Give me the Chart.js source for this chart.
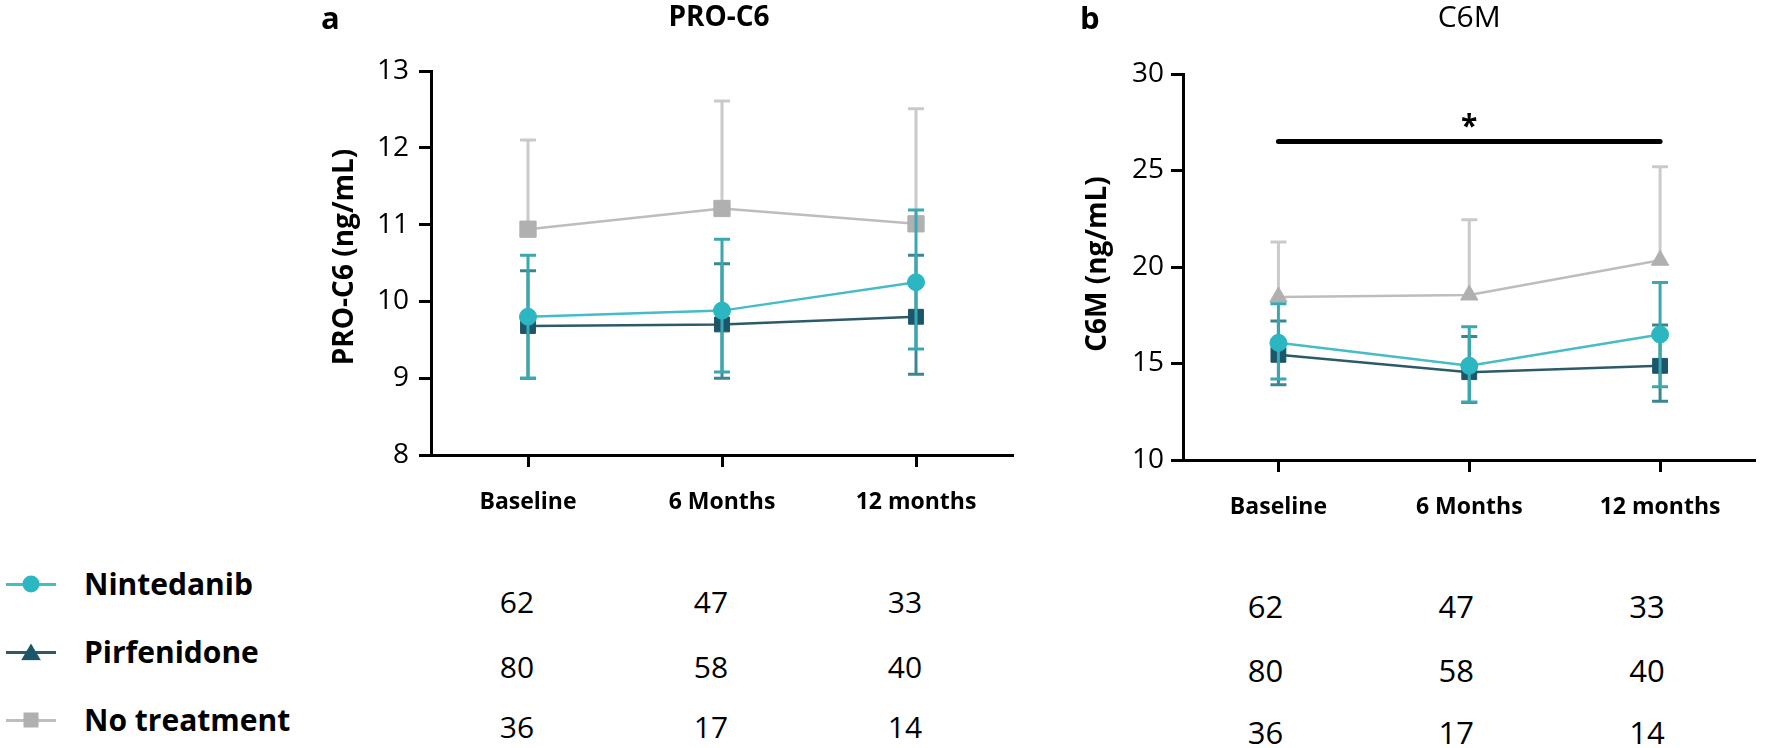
<!DOCTYPE html>
<html>
<head>
<meta charset="utf-8">
<script src="https://cdn.jsdelivr.net/npm/chart.js@4.4.0/dist/chart.umd.min.js"></script>
<style>
  html, body { margin: 0; padding: 0; background: #fff; }
  body { width: 1767px; height: 748px; position: relative; overflow: hidden; font-family: "Open Sans", sans-serif; color: #000; }
  canvas { position: absolute; top: 0; }
  .t { position: absolute; white-space: nowrap; line-height: 1; }
  .c { transform: translate(-50%, -50%); }
  .l { transform: translate(0, -50%); }
  .r { transform: translate(-50%, -50%) rotate(-90deg); }
  .leg-line { position: absolute; height: 3px; width: 50px; }
  .leg-mark { position: absolute; transform: translate(-50%, -50%); }
</style>
</head>
<body>
<canvas id="chartA" width="1060" height="560" style="left:0px"></canvas>
<canvas id="chartB" width="697" height="560" style="left:1070px"></canvas>
<script>
// time points
const timeLabels = ['Baseline', '6 Months', '12 months'];
const groupNames = ['Nintedanib', 'Pirfenidone', 'No treatment'];

// PRO-C6 (ng/mL), mean and error bar ends
const nintedanibA = [9.80, 9.88, 10.25];
const nintedanibAHigh = [10.60, 10.81, 11.19];
const nintedanibALow = [9.00, 9.08, 9.38];
const pirfenidoneA = [9.68, 9.70, 9.80];
const pirfenidoneAHigh = [10.40, 10.49, 10.60];
const pirfenidoneALow = [9.00, 9.00, 9.05];
const noTreatA = [10.94, 11.21, 11.01];
const noTreatAHigh = [12.10, 12.61, 12.51];

// C6M (ng/mL)
const nintedanibB = [16.07, 14.88, 16.50];
const nintedanibBHigh = [18.10, 16.90, 19.20];
const nintedanibBLow = [14.20, 13.00, 13.80];
const pirfenidoneB = [15.45, 14.55, 14.88];
const pirfenidoneBHigh = [17.20, 16.40, 17.00];
const pirfenidoneBLow = [13.90, 12.98, 13.05];
const noTreatB = [18.45, 18.55, 20.35];
const noTreatBHigh = [21.30, 22.45, 25.20];

// significance bar Baseline -> 12 months in C6M
const sigLevel = 26.5;

// patients per time point
const nintedanibN = [62, 47, 33];
const pirfenidoneN = [80, 58, 40];
const noTreatN = [36, 17, 14];

const colors = {
  nin: { line: '#45bcc6', point: '#2bb6c1', err: '#3aa7b1' },
  pir: { line: '#2d5a69', point: '#1c566b', err: '#3b8690' },
  none: { line: '#bdbdbd', point: '#b0b0b0', err: '#cacaca' }
};

const FONT = '"Open Sans", sans-serif';

// vertical error bars with caps; no treatment only has the upper half
const errorBars = {
  id: 'errorBars',
  beforeDatasetDraw(chart, args) {
    const ds = chart.data.datasets[args.index];
    const y = chart.scales.y;
    const ctx = chart.ctx;
    ctx.save();
    ctx.strokeStyle = ds.errColor;
    ctx.lineWidth = 3;
    args.meta.data.forEach((pt, i) => {
      const top = y.getPixelForValue(ds.errHigh[i]);
      const bot = ds.errLow ? y.getPixelForValue(ds.errLow[i]) : pt.y;
      ctx.beginPath();
      ctx.moveTo(pt.x, top); ctx.lineTo(pt.x, bot);
      ctx.moveTo(pt.x - 8, top); ctx.lineTo(pt.x + 8, top);
      if (ds.errLow) { ctx.moveTo(pt.x - 8, bot); ctx.lineTo(pt.x + 8, bot); }
      ctx.stroke();
    });
    ctx.restore();
  }
};

const sigBar = {
  id: 'sigBar',
  afterDraw(chart, args, opts) {
    if (!opts.show) return;
    const ctx = chart.ctx;
    const x0 = chart.scales.x.getPixelForValue(0);
    const x1 = chart.scales.x.getPixelForValue(2);
    const yy = chart.scales.y.getPixelForValue(opts.level);
    ctx.save();
    ctx.strokeStyle = '#000';
    ctx.lineWidth = 5;
    ctx.lineCap = 'round';
    ctx.beginPath();
    ctx.moveTo(x0, yy); ctx.lineTo(x1, yy);
    ctx.stroke();
    ctx.fillStyle = '#000';
    ctx.font = 'bold 30px ' + FONT;
    ctx.textAlign = 'center';
    ctx.textBaseline = 'middle';
    ctx.fillText('*', (x0 + x1) / 2, yy - 14);
    ctx.restore();
  }
};

function makeSet(label, data, hi, lo, c, style, radius) {
  return {
    label: label,
    data: data,
    errHigh: hi,
    errLow: lo,
    errColor: c.err,
    borderColor: c.line,
    borderWidth: 2.5,
    pointStyle: style,
    pointRadius: radius,
    pointBackgroundColor: c.point,
    pointBorderColor: c.point,
    pointBorderWidth: 1,
    tension: 0,
    fill: false
  };
}

function makePanel(id, sets, cfg) {
  return new Chart(document.getElementById(id), {
    type: 'line',
    data: { labels: timeLabels, datasets: sets },
    options: {
      responsive: false,
      animation: false,
      devicePixelRatio: 1,
      layout: { padding: cfg.padding },
      plugins: {
        legend: { display: false },
        tooltip: { enabled: false },
        sigBar: { show: cfg.sig, level: sigLevel }
      },
      scales: {
        x: {
          offset: true,
          grid: { offset: false, drawOnChartArea: false, tickLength: 12, tickWidth: 3, tickColor: '#000' },
          border: { color: '#000', width: 3 },
          ticks: { color: '#000', maxRotation: 0, padding: 22, font: { family: FONT, size: 23, weight: 'bold' } },
          afterFit: s => { s.height = cfg.xHeight; }
        },
        y: {
          min: cfg.min, max: cfg.max,
          grid: { drawOnChartArea: false, tickLength: 12, tickWidth: 3, tickColor: '#000' },
          border: { color: '#000', width: 3 },
          ticks: { stepSize: cfg.step, color: '#000', padding: cfg.tickPad, font: { family: FONT, size: 28 } },
          afterFit: s => { s.width = cfg.yWidth; }
        }
      }
    },
    plugins: [errorBars, sigBar]
  });
}

const chartA = makePanel('chartA', [
  makeSet(groupNames[0], nintedanibA, nintedanibAHigh, nintedanibALow, colors.nin, 'circle', 8.5),
  makeSet(groupNames[1], pirfenidoneA, pirfenidoneAHigh, pirfenidoneALow, colors.pir, 'rect', 10.5),
  makeSet(groupNames[2], noTreatA, noTreatAHigh, null, colors.none, 'rect', 11.5)
], { padding: { left: 321, top: 71, right: 47, bottom: 0 }, yWidth: 110, xHeight: 105, min: 8, max: 13, step: 1, tickPad: 10, sig: false });

const chartB = makePanel('chartB', [
  makeSet(groupNames[0], nintedanibB, nintedanibBHigh, nintedanibBLow, colors.nin, 'circle', 8.5),
  makeSet(groupNames[1], pirfenidoneB, pirfenidoneBHigh, pirfenidoneBLow, colors.pir, 'rect', 10.5),
  makeSet(groupNames[2], noTreatB, noTreatBHigh, null, colors.none, 'triangle', 10)
], { padding: { left: 13, top: 74, right: 4, bottom: 0 }, yWidth: 100, xHeight: 100, min: 10, max: 30, step: 5, tickPad: 7, sig: true });

// text placed on the page
function addText(txt, x, y, cls, css) {
  const d = document.createElement('div');
  d.className = 't ' + cls;
  d.textContent = txt;
  d.style.left = x + 'px';
  d.style.top = y + 'px';
  Object.assign(d.style, css || {});
  document.body.appendChild(d);
  return d;
}

addText('a', 321, 2, '', { fontWeight: 'bold', fontSize: '31px' });
addText('b', 1080, 2, '', { fontWeight: 'bold', fontSize: '31px' });
const areaA = chartA.chartArea, areaB = chartB.chartArea;
addText('PRO-C6', (areaA.left + areaA.right) / 2 - 3, 15, 'c', { fontWeight: 'bold', fontSize: '28px' });
addText('C6M', 1070 + (areaB.left + areaB.right) / 2, 16, 'c', { fontSize: '30px' });
addText('PRO-C6 (ng/mL)', 342, 257, 'r', { fontWeight: 'bold', fontSize: '28px' });
addText('C6M (ng/mL)', 1095, 264, 'r', { fontWeight: 'bold', fontSize: '28px' });

// legend
const legendRows = [584, 652, 720];
const legendColors = [colors.nin, colors.pir, colors.none];
groupNames.forEach((name, i) => {
  const y = legendRows[i];
  const line = document.createElement('div');
  line.className = 'leg-line';
  line.style.left = '6px';
  line.style.top = (y - 1.5) + 'px';
  line.style.background = legendColors[i].line;
  document.body.appendChild(line);
  const m = document.createElement('div');
  m.className = 'leg-mark';
  m.style.left = '31px';
  m.style.top = y + 'px';
  m.style.background = legendColors[i].point;
  if (i === 0) { m.style.width = '17px'; m.style.height = '17px'; m.style.borderRadius = '50%'; }
  if (i === 1) { m.style.width = '20px'; m.style.height = '17px'; m.style.clipPath = 'polygon(50% 0, 100% 100%, 0 100%)'; }
  if (i === 2) { m.style.width = '15px'; m.style.height = '15px'; }
  document.body.appendChild(m);
  addText(name, 84, y, 'l', { fontWeight: 'bold', fontSize: '30px' });
});

// patient counts under each time point
const countRows = [nintedanibN, pirfenidoneN, noTreatN];
const rowsA = [602, 667, 727];
const rowsB = [606, 670, 732];
countRows.forEach((row, r) => {
  row.forEach((n, i) => {
    const xa = chartA.scales.x.getPixelForValue(i) - 11;
    const xb = 1070 + chartB.scales.x.getPixelForValue(i) - 13;
    addText(String(n), xa, rowsA[r], 'c', { fontSize: '30px' });
    addText(String(n), xb, rowsB[r], 'c', { fontSize: '31px' });
  });
});
</script>
</body>
</html>
